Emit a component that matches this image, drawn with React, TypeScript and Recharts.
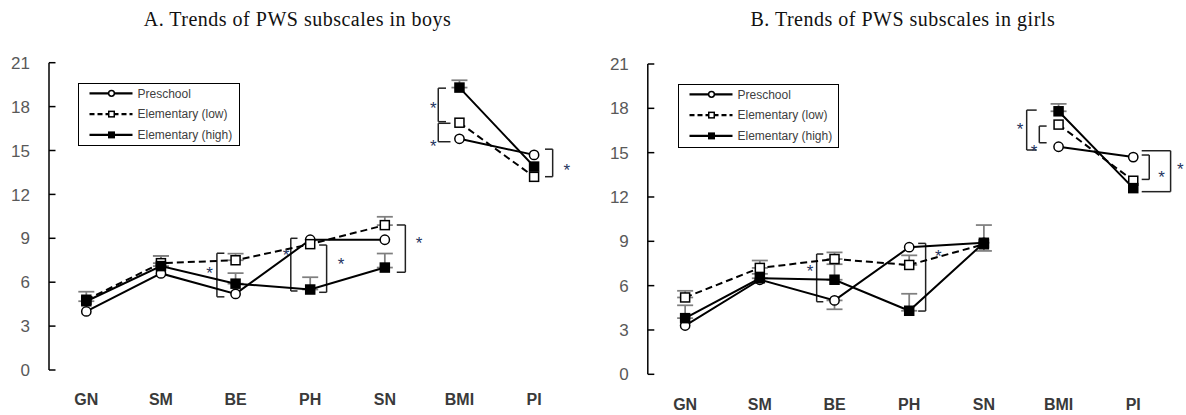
import React from 'react';
import { LineChart, Line, XAxis, YAxis, ErrorBar, ReferenceLine, ReferenceDot, Legend } from 'recharts';

// ---------- categories & ticks ----------
const categories = ['GN', 'SM', 'BE', 'PH', 'SN', 'BMI', 'PI'];
const breakBefore = 5; // lines are not joined between SN and BMI
const yTicks = [0, 3, 6, 9, 12, 15, 18, 21];

// ---------- boys ----------
const boysPreschool = [4.0, 6.6, 5.2, 8.9, 8.9, 15.8, 14.7];
const boysLow = [4.8, 7.3, 7.5, 8.6, 9.9, 16.9, 13.2];
const boysHigh = [4.7, 7.1, 5.9, 5.5, 7.0, 19.3, 13.9];
const boysPreschoolErrPlus = [null, null, null, null, null, null, null];
const boysPreschoolErrMinus = [null, null, null, null, null, null, null];
const boysLowErrPlus = [null, 0.5, 0.45, null, 0.57, null, null];
const boysLowErrMinus = [null, null, null, null, null, null, null];
const boysHighErrPlus = [0.65, 0.7, 0.72, 0.84, 0.96, 0.5, null];
const boysHighErrMinus = [null, null, null, null, null, null, null];

// ---------- girls ----------
const girlsPreschool = [3.3, 6.4, 5.0, 8.6, 8.9, 15.4, 14.7];
const girlsLow = [5.2, 7.2, 7.8, 7.4, 8.8, 16.9, 13.1];
const girlsHigh = [3.8, 6.5, 6.4, 4.3, 8.9, 17.8, 12.6];
const girlsPreschoolErrPlus = [null, null, null, null, null, null, null];
const girlsPreschoolErrMinus = [null, null, 0.6, null, null, null, null];
const girlsLowErrPlus = [0.45, 0.5, 0.45, 0.65, null, null, null];
const girlsLowErrMinus = [null, null, null, null, null, null, null];
const girlsHighErrPlus = [0.87, 0.3, 1.05, 1.15, 1.2, 0.5, null];
const girlsHighErrMinus = [null, null, null, null, 0.55, null, null];

// ---------- significance brackets (category units / value units) ----------
const boysBrackets = [
  { x: 2.25, arm: 2.35, y1: 7.98, y2: 5.0 },
  { x: 3.24, arm: 3.33, y1: 9.0, y2: 5.4 },
  { x: 3.72, arm: 3.62, y1: 8.54, y2: 5.31 },
  { x: 4.775, arm: 4.66, y1: 9.91, y2: 6.68 },
  { x: 5.216, arm: 5.32, y1: 19.26, y2: 16.97 },
  { x: 5.216, arm: 5.38, y1: 16.86, y2: 15.6 },
  { x: 6.749, arm: 6.646, y1: 15.09, y2: 13.21 },
];
const boysStars = [
  { x: 2.15, y: 6.88 },
  { x: 3.176, y: 8.15 },
  { x: 3.913, y: 7.52 },
  { x: 4.958, y: 8.93 },
  { x: 5.149, y: 18.18 },
  { x: 5.149, y: 15.54 },
  { x: 6.937, y: 13.94 },
];
const girlsBrackets = [
  { x: 2.261, arm: 2.35, y1: 8.14, y2: 4.91 },
  { x: 3.72, arm: 3.62, y1: 8.86, y2: 4.28 },
  { x: 5.073, arm: 5.207, y1: 17.88, y2: 15.18 },
  { x: 5.242, arm: 5.34, y1: 16.8, y2: 15.67 },
  { x: 6.714, arm: 6.613, y1: 14.84, y2: 13.19 },
  { x: 7.0, arm: 6.613, y1: 15.13, y2: 12.36 },
];
const girlsStars = [
  { x: 2.172, y: 7.28 },
  { x: 3.89, y: 8.23 },
  { x: 4.983, y: 16.87 },
  { x: 5.171, y: 15.4 },
  { x: 6.88, y: 13.6 },
  { x: 7.13, y: 14.16 },
];

// ---------- series definitions ----------
type Kind = 'circle' | 'open' | 'filled';
const seriesDefs: { key: string; name: string; dash?: string; kind: Kind }[] = [
  { key: 'pre', name: 'Preschool', kind: 'circle' },
  { key: 'low', name: 'Elementary (low)', dash: '7 4', kind: 'open' },
  { key: 'high', name: 'Elementary (high)', kind: 'filled' },
];

const pair = (m: number | null, p: number | null) =>
  m == null && p == null ? null : [m ?? 0, p ?? 0];

function buildRows(
  pre: number[], low: number[], high: number[],
  preM: (number | null)[], preP: (number | null)[],
  lowM: (number | null)[], lowP: (number | null)[],
  highM: (number | null)[], highP: (number | null)[]
) {
  const rows: any[] = [];
  categories.forEach((c, i) => {
    if (i === breakBefore) rows.push({ x: i, pre: null, low: null, high: null });
    rows.push({
      x: i + 0.5,
      cat: c,
      pre: pre[i],
      low: low[i],
      high: high[i],
      preErr: pair(preM[i], preP[i]),
      lowErr: pair(lowM[i], lowP[i]),
      highErr: pair(highM[i], highP[i]),
    });
  });
  return rows;
}

const boysRows = buildRows(
  boysPreschool, boysLow, boysHigh,
  boysPreschoolErrMinus, boysPreschoolErrPlus,
  boysLowErrMinus, boysLowErrPlus,
  boysHighErrMinus, boysHighErrPlus
);
const girlsRows = buildRows(
  girlsPreschool, girlsLow, girlsHigh,
  girlsPreschoolErrMinus, girlsPreschoolErrPlus,
  girlsLowErrMinus, girlsLowErrPlus,
  girlsHighErrMinus, girlsHighErrPlus
);

const SANS = "'Liberation Sans', Arial, sans-serif";
const SERIF = "'Liberation Serif', 'Times New Roman', serif";
const STAR_COLOR = '#1f3560';

function Marker({ kind, cx, cy, size }: { kind: Kind; cx: number; cy: number; size: number }) {
  if (kind === 'circle') {
    return <circle cx={cx} cy={cy} r={size / 2 - 0.6} fill="#fff" stroke="#000" strokeWidth={1.5} />;
  }
  if (kind === 'open') {
    const s = size - 1.5;
    return <rect x={cx - s / 2} y={cy - s / 2} width={s} height={s} fill="#fff" stroke="#000" strokeWidth={1.5} />;
  }
  return <rect x={cx - size / 2} y={cy - size / 2} width={size} height={size} fill="#000" />;
}

const makeDot = (kind: Kind) => (props: any) => {
  const { cx, cy, value, index } = props;
  if (value == null || !Number.isFinite(cx) || !Number.isFinite(cy)) return <g key={`d${index}`} />;
  return <Marker key={`d${index}`} kind={kind} cx={cx} cy={cy} size={10.5} />;
};

const YTick = (props: any) => {
  const { x, y, payload } = props;
  return (
    <g>
      <line x1={x + 19} x2={x + 25.5} y1={y} y2={y} stroke="#000" strokeWidth={1.5} />
      <text x={x} y={y} dy="0.36em" textAnchor="end" fontSize={17} fill="#595959" fontFamily={SANS}>
        {payload.value}
      </text>
    </g>
  );
};

const EmptyTick = () => <g />;

const StarLabel = (props: any) => {
  const vb = props.viewBox || { x: 0, y: 0, width: 0, height: 0 };
  const cx = vb.x + (vb.width || 0) / 2;
  const cy = vb.y + (vb.height || 0) / 2;
  return (
    <text x={cx} y={cy + 9.8} textAnchor="middle" fontSize={17} fill={STAR_COLOR} fontFamily={SANS}>
      *
    </text>
  );
};

const LegendContent = () => {
  const rowY = [9.3, 30.1, 50.9];
  return (
    <div
      style={{
        boxSizing: 'border-box',
        width: 161.5,
        height: 63.5,
        border: '1.5px solid #000',
        background: '#fff',
      }}
    >
      <svg width={158} height={60} style={{ display: 'block' }}>
        {seriesDefs.map((s, i) => (
          <g key={s.key}>
            <line
              x1={10.5}
              x2={53.5}
              y1={rowY[i]}
              y2={rowY[i]}
              stroke="#000"
              strokeWidth={2.25}
              strokeDasharray={s.dash ? '5 3' : undefined}
            />
            <Marker kind={s.kind} cx={32.5} cy={rowY[i]} size={7} />
            <text x={58.5} y={rowY[i]} dy="0.36em" fontSize={12} fill="#404040" fontFamily={SANS}>
              {s.name}
            </text>
          </g>
        ))}
      </svg>
    </div>
  );
};

type PanelProps = {
  rows: any[];
  width: number;
  yAxisWidth: number;
  marginTop: number;
  marginRight: number;
  xAxisHeight: number;
  brackets: { x: number; arm: number; y1: number; y2: number }[];
  stars: { x: number; y: number }[];
  legendLeft: number;
  legendTop: number;
};

function Panel(p: PanelProps) {
  const boundaryTicks = [0, ...categories.map((_, i) => i + 1)];
  const labelTicks = categories.map((_, i) => i + 0.5);
  return (
    <LineChart
      width={p.width}
      height={415}
      data={p.rows}
      margin={{ top: p.marginTop, right: p.marginRight, left: 0, bottom: 0 }}
    >
      <XAxis
        xAxisId="t"
        type="number"
        dataKey="x"
        domain={[0, categories.length]}
        ticks={boundaryTicks}
        interval={0}
        mirror
        height={0}
        tickSize={7}
        tick={EmptyTick}
        axisLine={{ stroke: '#000', strokeWidth: 2 }}
        tickLine={{ stroke: '#000', strokeWidth: 1.5 }}
        allowDataOverflow
      />
      <XAxis
        xAxisId="c"
        type="number"
        dataKey="x"
        domain={[0, categories.length]}
        ticks={labelTicks}
        interval={0}
        height={p.xAxisHeight}
        tickSize={0}
        tickMargin={24}
        axisLine={false}
        tickLine={false}
        tickFormatter={(v: number) => categories[Math.floor(v)]}
        tick={{ fontSize: 16, fontWeight: 'bold', fill: '#3a3a3a', fontFamily: SANS }}
        allowDataOverflow
      />
      <YAxis
        type="number"
        domain={[0, 21]}
        ticks={yTicks}
        interval={0}
        width={p.yAxisWidth}
        tickSize={0}
        tickMargin={19}
        tickLine={false}
        axisLine={{ stroke: '#000', strokeWidth: 1.5 }}
        tick={YTick}
        allowDataOverflow
      />
      <Legend
        layout="vertical"
        align="center"
        verticalAlign="middle"
        content={LegendContent}
        wrapperStyle={{ left: p.legendLeft, top: p.legendTop, width: 161.5, height: 63.5 }}
      />
      {p.brackets.map((b, i) => (
        <ReferenceLine
          key={`bv${i}`}
          xAxisId="t"
          ifOverflow="visible"
          segment={[{ x: b.x, y: b.y1 }, { x: b.x, y: b.y2 }]}
          stroke="#222"
          strokeWidth={1.5}
        />
      ))}
      {p.brackets.map((b, i) => (
        <ReferenceLine
          key={`bt${i}`}
          xAxisId="t"
          ifOverflow="visible"
          segment={[{ x: b.x, y: b.y1 }, { x: b.arm, y: b.y1 }]}
          stroke="#222"
          strokeWidth={1.5}
        />
      ))}
      {p.brackets.map((b, i) => (
        <ReferenceLine
          key={`bb${i}`}
          xAxisId="t"
          ifOverflow="visible"
          segment={[{ x: b.x, y: b.y2 }, { x: b.arm, y: b.y2 }]}
          stroke="#222"
          strokeWidth={1.5}
        />
      ))}
      {p.stars.map((s, i) => (
        <ReferenceDot
          key={`s${i}`}
          xAxisId="t"
          x={s.x}
          y={s.y}
          r={1}
          fill="none"
          stroke="none"
          ifOverflow="visible"
          label={<StarLabel />}
        />
      ))}
      {seriesDefs.map((s) => (
        <Line
          key={s.key}
          xAxisId="t"
          dataKey={s.key}
          name={s.name}
          stroke="#000"
          strokeWidth={2}
          strokeDasharray={s.dash}
          connectNulls={false}
          dot={makeDot(s.kind)}
          activeDot={false}
          isAnimationActive={false}
        >
          <ErrorBar dataKey={`${s.key}Err`} width={8} stroke="#7f7f7f" strokeWidth={1.75} direction="y" isAnimationActive={false} />
        </Line>
      ))}
    </LineChart>
  );
}

const titleStyle = (center: number): React.CSSProperties => ({
  position: 'absolute',
  left: center - 250,
  width: 500,
  top: 9.2,
  textAlign: 'center',
  fontFamily: SERIF,
  fontSize: 20,
  lineHeight: '20px',
  letterSpacing: 0.5,
  color: '#111',
  whiteSpace: 'nowrap',
});

export default function App() {
  return (
    <div style={{ position: 'absolute', left: 0, top: 0, width: 1186, height: 415, background: '#fff', overflow: 'hidden' }}>
      <div style={titleStyle(297.5)}>A. Trends of PWS subscales in boys</div>
      <div style={titleStyle(902.8)}>B. Trends of PWS subscales in girls</div>
      <div style={{ position: 'absolute', left: 0, top: 0 }}>
        <Panel
          rows={boysRows}
          width={600}
          yAxisWidth={49}
          marginTop={62.7}
          marginRight={28.6}
          xAxisHeight={45}
          brackets={boysBrackets}
          stars={boysStars}
          legendLeft={78.3}
          legendTop={82.8}
        />
      </div>
      <div style={{ position: 'absolute', left: 600, top: 0 }}>
        <Panel
          rows={girlsRows}
          width={586}
          yAxisWidth={47.8}
          marginTop={64}
          marginRight={15.4}
          xAxisHeight={40.7}
          brackets={girlsBrackets}
          stars={girlsStars}
          legendLeft={77.7}
          legendTop={84}
        />
      </div>
    </div>
  );
}
